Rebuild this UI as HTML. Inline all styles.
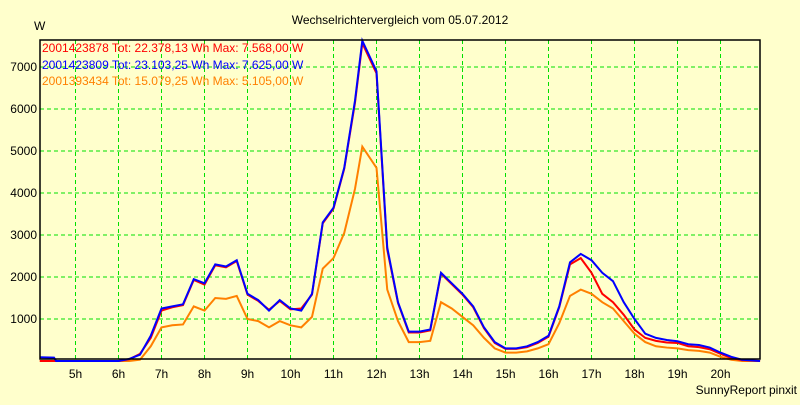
<!DOCTYPE html>
<html><head><meta charset="utf-8"><style>
body{margin:0;background:#FFFFCC;}
svg text{font-family:"Liberation Sans",sans-serif;font-size:12px;}
</style></head><body>
<svg width="800" height="400" viewBox="0 0 800 400" xmlns="http://www.w3.org/2000/svg">
<rect width="800" height="400" fill="#FFFFCC"/>
<text x="400" y="24" text-anchor="middle" font-size="12">Wechselrichtervergleich vom 05.07.2012</text>
<text x="34" y="30">W</text>
<text x="797" y="394" text-anchor="end" font-size="11">SunnyReport pinxit</text>
<g id="grid"></g>
<g id="series"></g>
<rect x="40" y="40" width="720" height="319" fill="none" stroke="#000" stroke-width="1.5"/>
<g id="legend">
<text x="42" y="52" fill="#FF0000" font-size="11">2001423878 Tot: 22.378,13 Wh Max: 7.568,00 W</text>
<text x="42" y="69" fill="#0000FF" font-size="11">2001423809 Tot: 23.103,25 Wh Max: 7.625,00 W</text>
<text x="42" y="85" fill="#FF8000" font-size="11">2001393434 Tot: 15.079,25 Wh Max: 5.105,00 W</text>
</g>
</svg>
<script>
const hourTicks=[5,6,7,8,9,10,11,12,13,14,15,16,17,18,19,20];
const yTicks=[1000,2000,3000,4000,5000,6000,7000];
const times=[4.17,4.5,4.55,6.0,6.25,6.5,6.75,7.0,7.25,7.5,7.75,8.0,8.25,8.5,8.75,9.0,9.25,9.5,9.75,10.0,10.25,10.5,10.75,11.0,11.25,11.5,11.67,12.0,12.25,12.5,12.75,13.0,13.25,13.5,13.75,14.0,14.25,14.5,14.75,15.0,15.25,15.5,15.75,16.0,16.25,16.5,16.75,17.0,17.25,17.5,17.75,18.0,18.25,18.5,18.75,19.0,19.25,19.5,19.75,20.0,20.25,20.5,20.92];
const blueVals=[90,80,0,0,50,150,600,1250,1300,1350,1950,1850,2300,2250,2400,1600,1450,1200,1450,1250,1200,1600,3300,3650,4600,6200,7625,6900,2700,1400,700,700,750,2100,1850,1600,1300,800,450,300,300,350,450,600,1300,2350,2550,2400,2100,1900,1400,1000,650,550,500,470,400,380,320,200,100,30,0];
const redVals=[0,0,0,0,40,170,550,1200,1280,1330,1930,1820,2280,2230,2380,1580,1430,1220,1430,1230,1250,1580,3280,3630,4580,6150,7568,6850,2650,1380,680,680,730,2080,1830,1580,1280,780,430,290,290,330,430,580,1280,2300,2450,2100,1600,1400,1100,750,550,480,440,430,350,330,280,170,70,20,0];
const orangeVals=[0,0,0,0,0,30,350,800,850,870,1300,1200,1500,1480,1550,1000,950,800,950,850,800,1050,2200,2450,3050,4100,5105,4600,1700,950,450,450,480,1400,1250,1050,850,550,300,200,200,230,300,400,900,1550,1700,1600,1400,1250,950,650,450,350,320,300,260,240,200,100,30,0,0];
const NS="http://www.w3.org/2000/svg";
const xs=h=>32.5+(h-4)*43;
const ys=v=>361-v*0.042;
const grid=document.getElementById('grid');
hourTicks.forEach(h=>{
 const l=document.createElementNS(NS,'line');
 
 
 l.setAttribute('x1',xs(h));l.setAttribute('x2',xs(h));l.setAttribute('y1',40);l.setAttribute('y2',359);
 l.setAttribute('stroke','#00E000');l.setAttribute('stroke-dasharray','4,3');grid.appendChild(l);
 const t=document.createElementNS(NS,'text');
 
 
 t.setAttribute('x',xs(h));t.setAttribute('y',378);t.setAttribute('text-anchor','middle');
 t.textContent=h+'h';grid.appendChild(t);
});
yTicks.forEach(v=>{
 const l=document.createElementNS(NS,'line');
 
 
 l.setAttribute('x1',40);l.setAttribute('x2',760);l.setAttribute('y1',ys(v));l.setAttribute('y2',ys(v));
 l.setAttribute('stroke','#00E000');l.setAttribute('stroke-dasharray','4,3');grid.appendChild(l);
 const t=document.createElementNS(NS,'text');
 
 
 t.setAttribute('x',37);t.setAttribute('y',ys(v)+4);t.setAttribute('text-anchor','end');
 t.textContent=v;grid.appendChild(t);
});
const ser=document.getElementById('series');
function draw(vals,color,name){
 const p=document.createElementNS(NS,'polyline');
 
 
 p.setAttribute('points',vals.map((v,i)=>xs(times[i])+','+ys(v)).join(' '));
 p.setAttribute('fill','none');p.setAttribute('stroke',color);p.setAttribute('stroke-width','2');
 ser.appendChild(p);
}
draw(orangeVals,'#FF8000','series-2001393434');
draw(redVals,'#FF0000','series-2001423878');
draw(blueVals,'#0000FF','series-2001423809');
</script>
</body></html>
